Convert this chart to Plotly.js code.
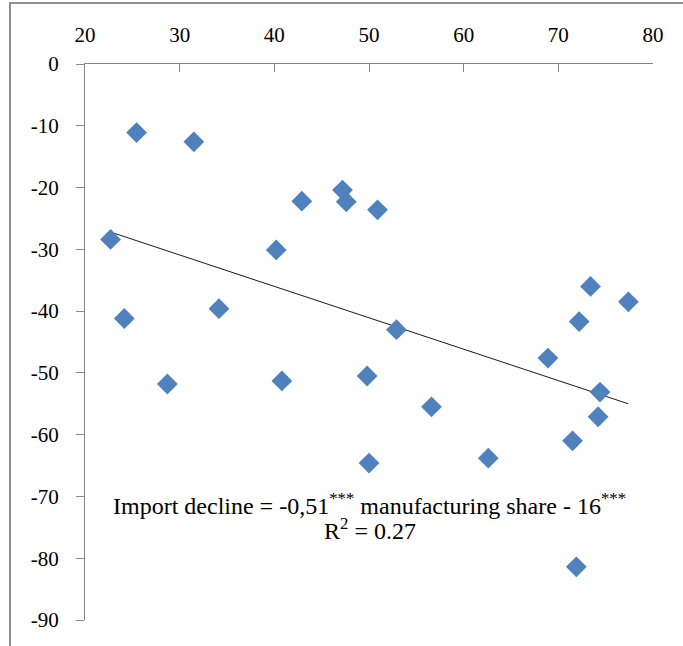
<!DOCTYPE html>
<html>
<head>
<meta charset="utf-8">
<script src="https://cdn.plot.ly/plotly-3.0.1.min.js"></script>
<style>
  html, body { margin: 0; padding: 0; background: #ffffff; }
  #wrap { position: relative; width: 683px; height: 646px; overflow: hidden; }
  #graph { position: absolute; left: 0; top: 0; width: 683px; height: 646px; }
  #frame {
    position: absolute; left: 9px; top: 2px; width: 700px; height: 700px;
    border-left: 2px solid #8e8e8e; border-top: 2px solid #8e8e8e;
    pointer-events: none;
  }
</style>
</head>
<body>
<div id="wrap">
  <div id="graph"></div>
  <div id="frame"></div>
</div>
<script>
// manufacturing share (x) vs import decline (y)
const SHARE = [22.7, 25.45, 24.15, 28.7, 31.5, 34.15, 40.2, 40.8, 42.9, 47.2,
  47.6, 50.9, 49.8, 50.0, 52.9, 56.6, 62.6, 68.9, 72.2, 73.4,
  77.4, 74.4, 74.2, 71.5, 71.9];
const DECLINE = [-28.4, -11.1, -41.2, -51.8, -12.6, -39.6, -30.1, -51.3, -22.2, -20.4,
  -22.3, -23.6, -50.5, -64.6, -43.0, -55.5, -63.8, -47.6, -41.7, -36.0,
  -38.5, -53.1, -57.1, -61.0, -81.4];

const X_TICKS = [20, 30, 40, 50, 60, 70, 80];
const Y_TICKS = [0, -10, -20, -30, -40, -50, -60, -70, -80, -90];

const EQ_LINE = 'Import decline = -0,51<sup>***</sup> manufacturing share - 16<sup>***</sup>';
const R2_LINE = 'R<sup>2</sup> = 0.27';

// --- least squares trend over the data range ---
function fitLine(xs, ys) {
  const n = xs.length;
  const mx = xs.reduce((a, b) => a + b, 0) / n;
  const my = ys.reduce((a, b) => a + b, 0) / n;
  let sxy = 0, sxx = 0;
  for (let i = 0; i < n; i++) {
    sxy += (xs[i] - mx) * (ys[i] - my);
    sxx += (xs[i] - mx) * (xs[i] - mx);
  }
  const slope = sxy / sxx;
  return { slope: slope, icpt: my - slope * mx };
}

const fit = fitLine(SHARE, DECLINE);
const xMin = Math.min(...SHARE), xMax = Math.max(...SHARE);

const FONT = 'Liberation Serif, DejaVu Serif, serif';
const AXIS_GREY = '#868686';

const trend = {
  x: [xMin, xMax],
  y: [fit.icpt + fit.slope * xMin, fit.icpt + fit.slope * xMax],
  mode: 'lines',
  type: 'scatter',
  hoverinfo: 'skip',
  line: { color: '#1a1a1a', width: 1 }
};

const points = {
  x: SHARE,
  y: DECLINE,
  mode: 'markers',
  type: 'scatter',
  marker: { symbol: 'diamond', size: 16, color: '#4f81bd', line: { width: 0 } }
};

const layout = {
  width: 683,
  height: 646,
  margin: { l: 85, r: 30, t: 64, b: 26 },
  paper_bgcolor: 'rgba(0,0,0,0)',
  plot_bgcolor: '#ffffff',
  showlegend: false,
  font: { family: FONT, size: 20, color: '#000000' },
  xaxis: {
    range: [20, 80],
    side: 'top',
    tickvals: X_TICKS,
    ticktext: X_TICKS.map(String),
    ticks: 'inside',
    ticklen: 8,
    tickcolor: AXIS_GREY,
    ticklabelstandoff: 13,
    showline: true,
    linecolor: AXIS_GREY,
    linewidth: 1,
    showgrid: false,
    zeroline: false,
    tickfont: { family: FONT, size: 21, color: '#000000' }
  },
  yaxis: {
    range: [-90, 0],
    tickvals: Y_TICKS,
    ticktext: Y_TICKS.map(String),
    ticks: 'outside',
    ticklen: 8,
    tickcolor: AXIS_GREY,
    ticklabelstandoff: 13,
    showline: true,
    linecolor: AXIS_GREY,
    linewidth: 1,
    showgrid: false,
    zeroline: false,
    tickfont: { family: FONT, size: 21, color: '#000000' }
  },
  annotations: [
    { x: 50.1, y: -71.3, xref: 'x', yref: 'y', text: EQ_LINE, showarrow: false,
      font: { family: FONT, size: 24, color: '#000000' } },
    { x: 50.1, y: -75.2, xref: 'x', yref: 'y', text: R2_LINE, showarrow: false,
      font: { family: FONT, size: 24, color: '#000000' } }
  ]
};

Plotly.newPlot('graph', [trend, points], layout, { displayModeBar: false, staticPlot: true });
</script>
</body>
</html>
